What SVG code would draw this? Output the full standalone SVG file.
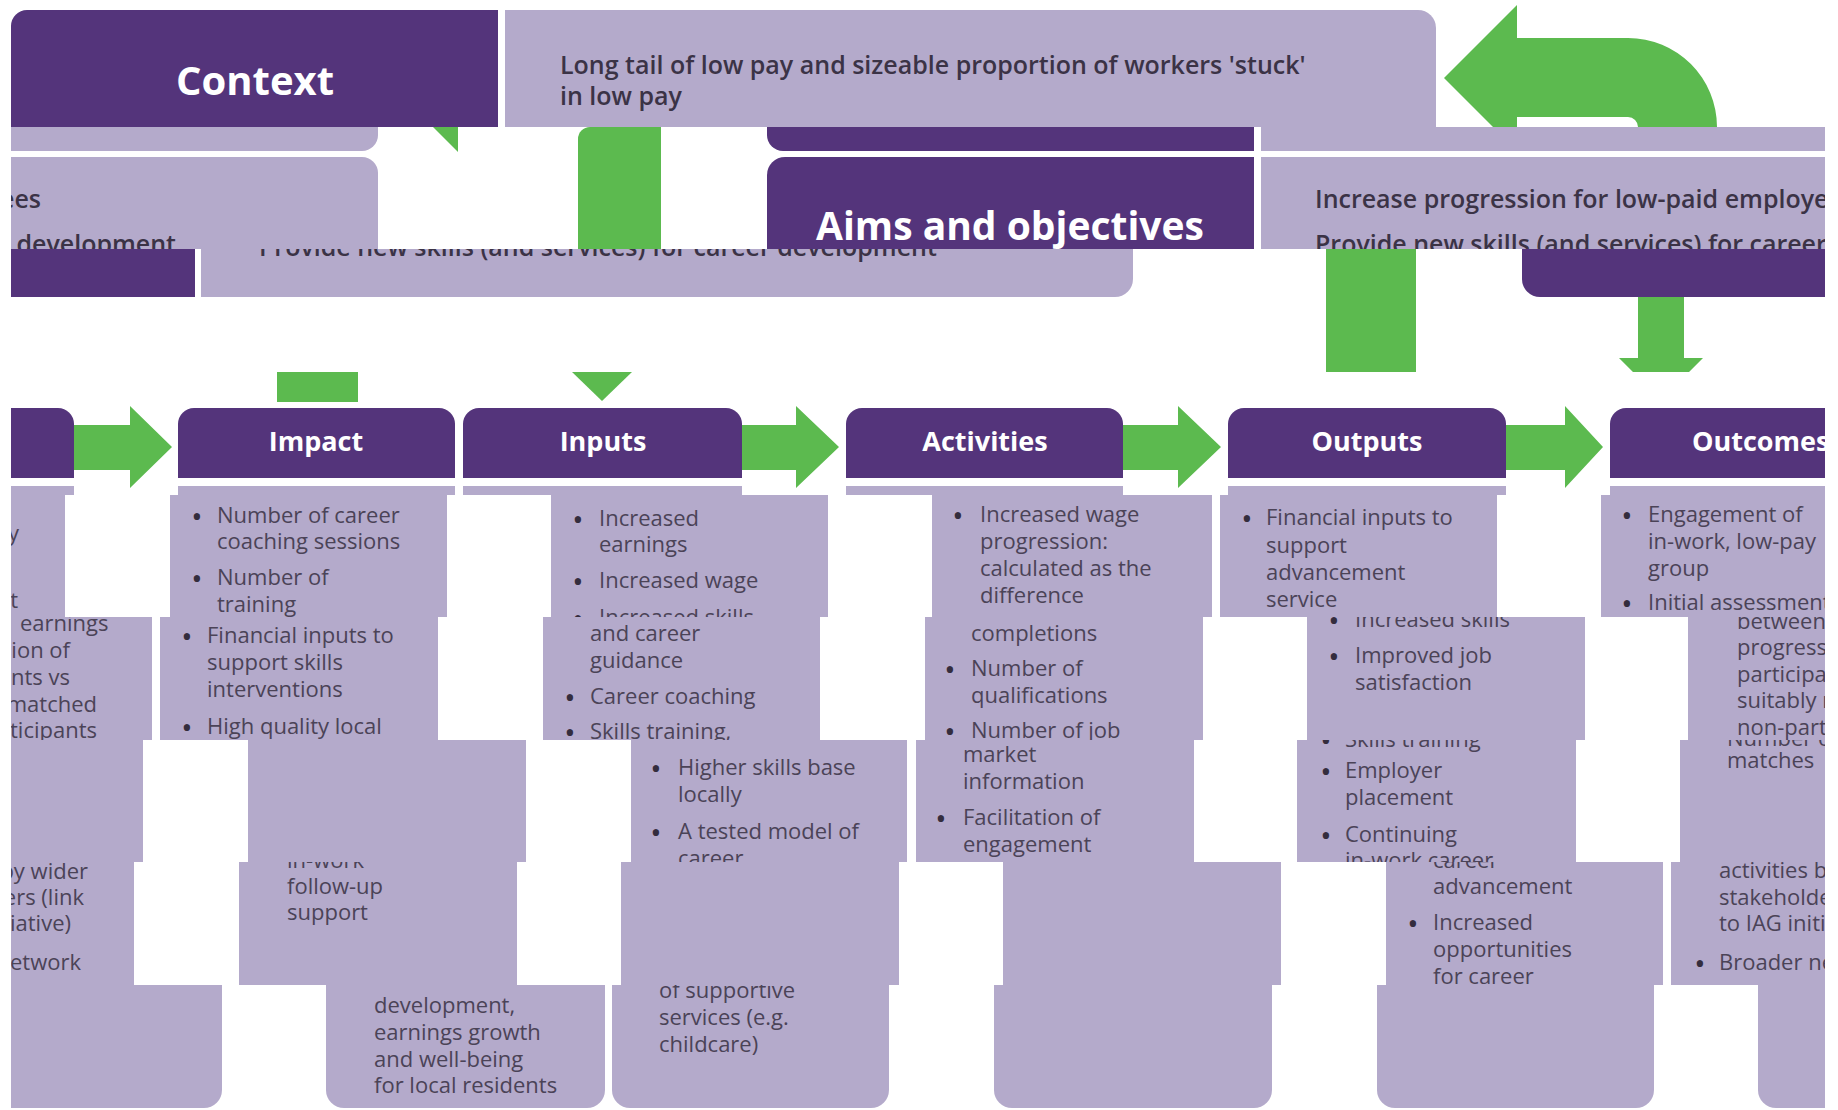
<svg xmlns="http://www.w3.org/2000/svg" width="1838" height="1110" viewBox="0 0 1838 1110">
<style>
text{font-family:'Open Sans','Liberation Sans',Arial,sans-serif}
.pu{fill:#54347b}
.lv{fill:#b4aacb}
.gn{fill:#5cba4f}
.ttl{font-weight:700;fill:#fff}
.hd{font-size:27px;text-anchor:middle}
.ld{font-weight:600;font-size:25px;fill:#3b3346}
.bd{font-size:22px;fill:#4b4357}
.bl{font-size:30px;fill:#342d3e;text-anchor:middle;transform:translateY(4px)}
.e{text-anchor:end}
</style>
<rect width="1838" height="1110" fill="#fff"/>

<!-- top band: context -->
<g id="context">
  <path class="pu" d="M11 127V26A16 16 0 0 1 27 10H498V127Z"/>
  <text class="ttl" x="255" y="95" font-size="40" text-anchor="middle">Context</text>
</g>
<g id="context-statement">
  <path class="lv" d="M505 10H1418A18 18 0 0 1 1436 28V127H505Z"/>
  <text class="ld" x="560" y="74">Long tail of low pay and sizeable proportion of workers 'stuck'</text>
  <text class="ld" x="560" y="105">in low pay</text>
</g>

<!-- aims and objectives band -->
<g id="aims">
  <path class="lv" d="M11 127H378V135A16 16 0 0 1 362 151H11Z"/>
  <svg x="11" y="157" width="367" height="92" viewBox="11 157 367 92">
    <path class="lv" d="M11 249V157H362A16 16 0 0 1 378 173V249Z"/>
    <text class="ld e" x="41" y="208">Increase progression for low-paid employees</text>
    <text class="ld e" x="176" y="253">Provide new skills (and services) for career development</text>
  </svg>
  <path class="pu" d="M767 127H1254V151H783A16 16 0 0 1 767 135Z"/>
  <path class="pu" d="M767 249V175A18 18 0 0 1 785 157H1254V249Z"/>
  <text class="ttl" x="1010" y="240" font-size="39" text-anchor="middle">Aims and objectives</text>
  <rect class="lv" x="1261" y="127" width="564" height="24"/>
  <svg x="1261" y="157" width="564" height="92" viewBox="1261 157 564 92">
    <rect class="lv" x="1261" y="157" width="564" height="92"/>
    <text class="ld" x="1315" y="208">Increase progression for low-paid employees</text>
    <text class="ld" x="1315" y="253">Provide new skills (and services) for career development</text>
  </svg>
  <rect class="pu" x="11" y="249" width="184" height="48"/>
  <svg x="201" y="249" width="932" height="48" viewBox="201 249 932 48">
    <path class="lv" d="M201 249H1133V279A18 18 0 0 1 1115 297H201Z"/>
    <text class="ld" x="259" y="256">Provide new skills (and services) for career development</text>
  </svg>
  <path class="pu" d="M1522 249H1825V297H1540A18 18 0 0 1 1522 279Z"/>
</g>

<!-- leftmost partial column -->
<g id="col-lead">
  <path class="pu" d="M11 408H58A16 16 0 0 1 74 424V478H11Z"/>
  <rect class="lv" x="11" y="486" width="63" height="9"/>
  <svg x="11" y="495" width="54" height="122" viewBox="11 495 54 122">
    <rect class="lv" x="11" y="495" width="54" height="122"/>
    <text class="bd e" x="19" y="541">low-pay</text>
    <text class="bd e" x="18" y="608">assessment</text>
  </svg>
  <svg x="11" y="617" width="141" height="123" viewBox="11 617 141 123">
    <rect class="lv" x="11" y="617" width="141" height="123"/>
    <text class="bd" x="20" y="631">earnings</text>
    <text class="bd e" x="70" y="658">progression of</text>
    <text class="bd e" x="70" y="685">participants vs</text>
    <text class="bd e" x="97" y="712">suitably matched</text>
    <text class="bd e" x="97" y="738">non-participants</text>
  </svg>
  <rect class="lv" x="11" y="740" width="132" height="122"/>
  <svg x="11" y="862" width="123" height="123" viewBox="11 862 123 123">
    <rect class="lv" x="11" y="862" width="123" height="123"/>
    <text class="bd e" x="88" y="879">activities by wider</text>
    <text class="bd e" x="84" y="905">stakeholders (link</text>
    <text class="bd e" x="71" y="931">to IAG initiative)</text>
    <text class="bd e" x="81" y="970">Broader network</text>
  </svg>
  <path class="lv" d="M11 985H222V1090A18 18 0 0 1 204 1108H11Z"/>
</g>

<!-- impact column -->
<g id="col-impact">
  <path class="pu" d="M178 478V424A16 16 0 0 1 194 408H439A16 16 0 0 1 455 424V478Z"/>
  <text class="ttl hd" x="316" y="451">Impact</text>
  <rect class="lv" x="178" y="486" width="277" height="9"/>
  <svg x="170" y="495" width="277" height="122" viewBox="170 495 277 122">
    <rect class="lv" x="170" y="495" width="277" height="122"/>
    <text class="bl" x="197" y="523">•</text><text class="bd" x="217" y="523">Number of career</text>
    <text class="bd" x="217" y="549">coaching sessions</text>
    <text class="bl" x="197" y="585">•</text><text class="bd" x="217" y="585">Number of</text>
    <text class="bd" x="217" y="612">training</text>
  </svg>
  <svg x="160" y="617" width="278" height="123" viewBox="160 617 278 123">
    <rect class="lv" x="160" y="617" width="278" height="123"/>
    <text class="bl" x="187" y="643">•</text><text class="bd" x="207" y="643">Financial inputs to</text>
    <text class="bd" x="207" y="670">support skills</text>
    <text class="bd" x="207" y="697">interventions</text>
    <text class="bl" x="187" y="734">•</text><text class="bd" x="207" y="734">High quality local</text>
  </svg>
  <rect class="lv" x="248" y="740" width="278" height="122"/>
  <svg x="239" y="862" width="278" height="123" viewBox="239 862 278 123">
    <rect class="lv" x="239" y="862" width="278" height="123"/>
    <text class="bd" x="287" y="868">in-work</text>
    <text class="bd" x="287" y="894">follow-up</text>
    <text class="bd" x="287" y="920">support</text>
  </svg>
  <path class="lv" d="M326 985H605V1090A18 18 0 0 1 587 1108H344A18 18 0 0 1 326 1090Z"/>
  <text class="bd" x="374" y="1013">development,</text>
  <text class="bd" x="374" y="1040">earnings growth</text>
  <text class="bd" x="374" y="1067">and well-being</text>
  <text class="bd" x="374" y="1093">for local residents</text>
</g>

<!-- inputs column -->
<g id="col-inputs">
  <path class="pu" d="M463 478V424A16 16 0 0 1 479 408H726A16 16 0 0 1 742 424V478Z"/>
  <text class="ttl hd" x="603" y="451">Inputs</text>
  <rect class="lv" x="463" y="486" width="279" height="9"/>
  <svg x="551" y="495" width="277" height="122" viewBox="551 495 277 122">
    <rect class="lv" x="551" y="495" width="277" height="122"/>
    <text class="bl" x="578" y="526">•</text><text class="bd" x="599" y="526">Increased</text>
    <text class="bd" x="599" y="552">earnings</text>
    <text class="bl" x="578" y="588">•</text><text class="bd" x="599" y="588">Increased wage</text>
    <text class="bl" x="578" y="625">•</text><text class="bd" x="599" y="625">Increased skills</text>
  </svg>
  <svg x="543" y="617" width="277" height="123" viewBox="543 617 277 123">
    <rect class="lv" x="543" y="617" width="277" height="123"/>
    <text class="bd" x="590" y="641">and career</text>
    <text class="bd" x="590" y="668">guidance</text>
    <text class="bl" x="570" y="704">•</text><text class="bd" x="590" y="704">Career coaching</text>
    <text class="bl" x="570" y="739">•</text><text class="bd" x="590" y="739">Skills training,</text>
  </svg>
  <svg x="631" y="740" width="276" height="122" viewBox="631 740 276 122">
    <rect class="lv" x="631" y="740" width="276" height="122"/>
    <text class="bl" x="656" y="775">•</text><text class="bd" x="678" y="775">Higher skills base</text>
    <text class="bd" x="678" y="802">locally</text>
    <text class="bl" x="656" y="839">•</text><text class="bd" x="678" y="839">A tested model of</text>
    <text class="bd" x="678" y="866">career</text>
  </svg>
  <rect class="lv" x="621" y="862" width="278" height="123"/>
  <svg x="612" y="985" width="277" height="125" viewBox="612 985 277 125">
    <path class="lv" d="M612 985H889V1090A18 18 0 0 1 871 1108H630A18 18 0 0 1 612 1090Z"/>
    <text class="bd" x="659" y="998">of supportive</text>
    <text class="bd" x="659" y="1025">services (e.g.</text>
    <text class="bd" x="659" y="1052">childcare)</text>
  </svg>
</g>

<!-- activities column -->
<g id="col-activities">
  <path class="pu" d="M846 478V424A16 16 0 0 1 862 408H1107A16 16 0 0 1 1123 424V478Z"/>
  <text class="ttl hd" x="985" y="451">Activities</text>
  <rect class="lv" x="846" y="486" width="277" height="9"/>
  <svg x="932" y="495" width="280" height="122" viewBox="932 495 280 122">
    <rect class="lv" x="932" y="495" width="280" height="122"/>
    <text class="bl" x="958" y="522">•</text><text class="bd" x="980" y="522">Increased wage</text>
    <text class="bd" x="980" y="549">progression:</text>
    <text class="bd" x="980" y="576">calculated as the</text>
    <text class="bd" x="980" y="603">difference</text>
  </svg>
  <svg x="925" y="617" width="278" height="123" viewBox="925 617 278 123">
    <rect class="lv" x="925" y="617" width="278" height="123"/>
    <text class="bd" x="971" y="641">completions</text>
    <text class="bl" x="950" y="676">•</text><text class="bd" x="971" y="676">Number of</text>
    <text class="bd" x="971" y="703">qualifications</text>
    <text class="bl" x="950" y="738">•</text><text class="bd" x="971" y="738">Number of job</text>
  </svg>
  <svg x="916" y="740" width="278" height="122" viewBox="916 740 278 122">
    <rect class="lv" x="916" y="740" width="278" height="122"/>
    <text class="bd" x="963" y="762">market</text>
    <text class="bd" x="963" y="789">information</text>
    <text class="bl" x="941" y="825">•</text><text class="bd" x="963" y="825">Facilitation of</text>
    <text class="bd" x="963" y="852">engagement</text>
  </svg>
  <rect class="lv" x="1003" y="862" width="278" height="123"/>
  <path class="lv" d="M994 985H1272V1090A18 18 0 0 1 1254 1108H1012A18 18 0 0 1 994 1090Z"/>
</g>

<!-- outputs column -->
<g id="col-outputs">
  <path class="pu" d="M1228 478V424A16 16 0 0 1 1244 408H1490A16 16 0 0 1 1506 424V478Z"/>
  <text class="ttl hd" x="1367" y="451">Outputs</text>
  <rect class="lv" x="1228" y="486" width="278" height="9"/>
  <svg x="1220" y="495" width="277" height="122" viewBox="1220 495 277 122">
    <rect class="lv" x="1220" y="495" width="277" height="122"/>
    <text class="bl" x="1247" y="525">•</text><text class="bd" x="1266" y="525">Financial inputs to</text>
    <text class="bd" x="1266" y="553">support</text>
    <text class="bd" x="1266" y="580">advancement</text>
    <text class="bd" x="1266" y="607">service</text>
  </svg>
  <svg x="1307" y="617" width="278" height="123" viewBox="1307 617 278 123">
    <rect class="lv" x="1307" y="617" width="278" height="123"/>
    <text class="bl" x="1334" y="627">•</text><text class="bd" x="1355" y="627">Increased skills</text>
    <text class="bl" x="1334" y="663">•</text><text class="bd" x="1355" y="663">Improved job</text>
    <text class="bd" x="1355" y="690">satisfaction</text>
  </svg>
  <svg x="1297" y="740" width="279" height="122" viewBox="1297 740 279 122">
    <rect class="lv" x="1297" y="740" width="279" height="122"/>
    <text class="bl" x="1326" y="747">•</text><text class="bd" x="1345" y="747">Skills training</text>
    <text class="bl" x="1326" y="778">•</text><text class="bd" x="1345" y="778">Employer</text>
    <text class="bd" x="1345" y="805">placement</text>
    <text class="bl" x="1326" y="842">•</text><text class="bd" x="1345" y="842">Continuing</text>
    <text class="bd" x="1345" y="868">in-work career</text>
  </svg>
  <svg x="1386" y="862" width="277" height="123" viewBox="1386 862 277 123">
    <rect class="lv" x="1386" y="862" width="277" height="123"/>
    <text class="bd" x="1433" y="868">career</text>
    <text class="bd" x="1433" y="894">advancement</text>
    <text class="bl" x="1413" y="930">•</text><text class="bd" x="1433" y="930">Increased</text>
    <text class="bd" x="1433" y="957">opportunities</text>
    <text class="bd" x="1433" y="984">for career</text>
  </svg>
  <path class="lv" d="M1377 985H1654V1090A18 18 0 0 1 1636 1108H1395A18 18 0 0 1 1377 1090Z"/>
</g>

<!-- outcomes column (cut at right edge) -->
<g id="col-outcomes">
  <svg x="1610" y="408" width="215" height="70" viewBox="1610 408 215 70">
    <path class="pu" d="M1610 478V424A16 16 0 0 1 1626 408H1825V478Z"/>
    <text class="ttl" x="1692" y="451" font-size="27">Outcomes</text>
  </svg>
  <rect class="lv" x="1610" y="486" width="215" height="9"/>
  <svg x="1601" y="495" width="224" height="122" viewBox="1601 495 224 122">
    <rect class="lv" x="1601" y="495" width="224" height="122"/>
    <text class="bl" x="1627" y="522">•</text><text class="bd" x="1648" y="522">Engagement of</text>
    <text class="bd" x="1648" y="549">in-work, low-pay</text>
    <text class="bd" x="1648" y="576">group</text>
    <text class="bl" x="1627" y="610">•</text><text class="bd" x="1648" y="610">Initial assessment</text>
  </svg>
  <svg x="1688" y="617" width="137" height="123" viewBox="1688 617 137 123">
    <rect class="lv" x="1688" y="617" width="137" height="123"/>
    <text class="bd" x="1737" y="629">between</text>
    <text class="bd" x="1737" y="655">progression of</text>
    <text class="bd" x="1737" y="682">participants vs</text>
    <text class="bd" x="1737" y="708">suitably matched</text>
    <text class="bd" x="1737" y="735">non-participants</text>
  </svg>
  <svg x="1680" y="740" width="145" height="122" viewBox="1680 740 145 122">
    <rect class="lv" x="1680" y="740" width="145" height="122"/>
    <text class="bd" x="1727" y="746">Number of</text>
    <text class="bd" x="1727" y="768">matches</text>
  </svg>
  <svg x="1671" y="862" width="154" height="123" viewBox="1671 862 154 123">
    <rect class="lv" x="1671" y="862" width="154" height="123"/>
    <text class="bd" x="1719" y="878">activities by wider</text>
    <text class="bd" x="1719" y="905">stakeholders (link</text>
    <text class="bd" x="1719" y="931">to IAG initiative)</text>
    <text class="bl" x="1700" y="970">•</text><text class="bd" x="1719" y="970">Broader network</text>
  </svg>
  <path class="lv" d="M1758 985H1825V1108H1776A18 18 0 0 1 1758 1090Z"/>
</g>

<!-- green flow arrows -->
<g id="connectors">
  <svg x="1400" y="0" width="438" height="127" viewBox="1400 0 438 127">
    <path class="gn" d="M1444 78L1517 5V38H1628A89 89 0 0 1 1717 127H1638A10 10 0 0 0 1628 117H1517V151Z"/>
  </svg>
  <path class="gn" d="M433 127H458V152Z"/>
  <path class="gn" d="M578 249V139A12 12 0 0 1 590 127H661V249Z"/>
  <rect class="gn" x="1326" y="249" width="90" height="123"/>
  <path class="gn" d="M1638 297H1684V358H1703L1689 372H1633L1619 358H1638Z"/>
  <rect class="gn" x="277" y="372" width="81" height="30"/>
  <path class="gn" d="M572 372H632L602 401Z"/>
  <path class="gn" d="M74 425H130V406L172 447L130 488V470H74Z"/>
  <path class="gn" d="M742 425H796V406L839 447L796 488V470H742Z"/>
  <path class="gn" d="M1123 425H1178V406L1221 447L1178 488V470H1123Z"/>
  <path class="gn" d="M1506 425H1565V406L1603 447L1565 488V470H1506Z"/>
</g>
</svg>
